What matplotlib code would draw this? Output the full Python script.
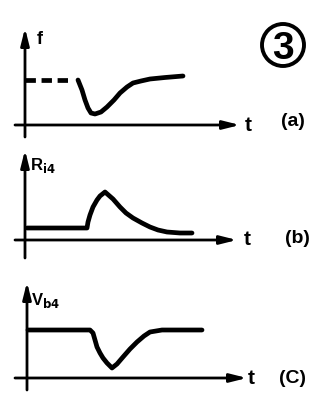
"""Three-panel response sketch: f, R_i4 and V_b4 against t."""

import matplotlib
matplotlib.use("Agg")
import matplotlib.pyplot as plt
from matplotlib.patches import Circle

W, H = 329, 419

# panel (a): frequency f
f_ref_t = [0, 43]
f_ref_v = [45, 45]
f_t = [53, 57, 60, 63, 66, 70, 76, 82, 89, 95, 102, 108, 116, 125, 140, 158]
f_v = [45, 35, 25, 17, 12, 11, 13, 18, 25, 32, 38, 42, 44, 46, 47.5, 49]

# panel (b): R_i4
r_t = [2, 62, 63, 65, 68, 72, 75, 80, 88, 95, 101, 108, 117, 125, 133, 142, 155, 167]
r_v = [12, 12, 18, 25, 33, 40, 44, 48, 41, 33, 27, 22, 17, 13, 10, 8, 7, 7]

# panel (c): V_b4
v_t = [1, 63, 66, 68, 70, 73, 76, 80, 85, 90, 96, 103, 110, 117, 123, 135, 175]
v_v = [48, 48, 45, 38, 31, 25, 20, 15, 10, 14, 21, 29, 36, 42, 46, 48, 48]

LW = 3.4
plt.rcParams["font.family"] = ["Liberation Sans", "DejaVu Sans"]

fig = plt.figure(figsize=(W / 100, H / 100), dpi=100)
fig.patch.set_facecolor("white")


def panel(top, bottom, ox, oy):
    # axes where one data unit is one pixel, origin at (ox, oy)
    ax = fig.add_axes([0, (H - bottom) / H, 1, (bottom - top) / H])
    ax.set_xlim(-ox, W - ox)
    ax.set_ylim(oy - bottom, oy - top)
    ax.axis("off")
    return ax


def axes_arrows(ax, x0, x1, y0, y1):
    ap = dict(arrowstyle="-|>,head_length=1.0,head_width=0.25", lw=2.0,
              color="black", shrinkA=0, shrinkB=0)
    ax.annotate("", xy=(x1, 0), xytext=(x0, 0), arrowprops=ap)
    ax.annotate("", xy=(0, y1), xytext=(0, y0), arrowprops=ap)


txt = dict(color="black", fontweight="bold", va="center")
tag = dict(color="black", fontsize=14, ha="center", va="center",
           fontweight="bold")

# (a)
ax = panel(0, 140, 25, 125)
axes_arrows(ax, -10, 215, -12, 97)
ax.plot(f_ref_t, f_ref_v, color="black", lw=LW, ls=(0, (2.2, 1.2)),
        solid_capstyle="butt")
ax.plot(f_t, f_v, color="black", lw=LW, solid_joinstyle="round",
        solid_capstyle="round")
ax.text(12, 85, "f", fontsize=13, **txt)
ax.text(220, 0, "t", fontsize=15, **txt)
ax.text(268, 4, "(a)", **tag)
ax.add_patch(Circle((258, 80), 21, fill=False, lw=2.8, color="black"))
ax.text(258, 80, "3", fontsize=28, ha="center", color="black",
        fontweight="bold", va="center_baseline")

# (b)
ax = panel(140, 280, 25, 240)
axes_arrows(ax, -10, 212, -18, 90)
ax.plot(r_t, r_v, color="black", lw=LW, solid_joinstyle="round",
        solid_capstyle="round")
ax.text(5, 75, "R$_{\\mathbf{i4}}$", fontsize=12, **txt)
ax.text(219, 1, "t", fontsize=15, **txt)
ax.text(272, 2, "(b)", **tag)

# (c)
ax = panel(280, 419, 27, 378)
axes_arrows(ax, -12, 220, -12, 96)
ax.plot(v_t, v_v, color="black", lw=LW, solid_joinstyle="round",
        solid_capstyle="round")
ax.text(4, 77, "V$_{\\mathbf{b4}}$", fontsize=12, **txt)
ax.text(221, 0, "t", fontsize=15, **txt)
ax.text(265, 0, "(C)", **tag)

fig.savefig("out.png", dpi=100)
